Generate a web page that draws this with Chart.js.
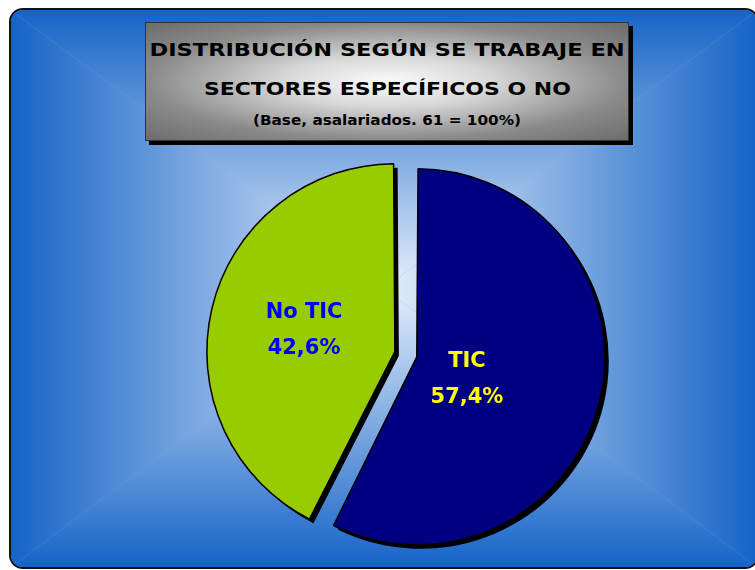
<!DOCTYPE html>
<html><head><meta charset="utf-8">
<script src="https://cdn.jsdelivr.net/npm/chart.js@4.4.1/dist/chart.umd.min.js"></script>
<style>
html,body{margin:0;padding:0;background:#fff;width:755px;height:570px;overflow:hidden;font-family:"DejaVu Sans",sans-serif;}
.rg{position:absolute;overflow:hidden;box-sizing:border-box;}
.q{position:absolute;left:0;top:0;width:100%;height:100%;}
.q.t{clip-path:polygon(0 0,100% 0,50% 50%);background:linear-gradient(to bottom,var(--e) 0%,var(--c) 50%,var(--c) 100%);}
.q.b{clip-path:polygon(0 100%,100% 100%,50% 50%);background:linear-gradient(to top,var(--e) 0%,var(--c) 50%,var(--c) 100%);}
.q.l{clip-path:polygon(0 0,0 100%,50% 50%);background:linear-gradient(to right,var(--e) 0%,var(--c) 50%,var(--c) 100%);}
.q.r{clip-path:polygon(100% 0,100% 100%,50% 50%);background:linear-gradient(to left,var(--e) 0%,var(--c) 50%,var(--c) 100%);}
#bg{left:9px;top:8px;width:750px;height:561px;border:2px solid #111;border-radius:14px;--e:#1563c8;--c:#e4eefa;background:#7fa6e0;}
#titlebox{left:145px;top:22px;width:484px;height:119px;border:1px solid #333;box-shadow:4px 4px 0 #000;overflow:visible;
  background:radial-gradient(ellipse farthest-corner at 50% 50%,#fbfbfb 0%,#d8d8d8 30%,#8a8a8a 70%,#6c6c6c 100%);}
.tl{position:absolute;left:0;width:100%;text-align:center;font-weight:bold;color:#000;white-space:nowrap;}
.tl span{display:inline-block;transform-origin:50% 50%;}
#l1{top:18px;font-size:18px;line-height:18px;}
#l2{top:57px;font-size:18px;line-height:18px;}
#l3{top:90px;font-size:14px;line-height:14px;}
#pie{position:absolute;left:179px;top:125px;}
</style></head>
<body>
<div id="bg" class="rg"><div class="q t"></div><div class="q b"></div><div class="q l"></div><div class="q r"></div></div>
<div id="titlebox" class="rg">
  <div class="tl" id="l1"><span data-w="475">DISTRIBUCIÓN SEGÚN SE TRABAJE EN</span></div>
  <div class="tl" id="l2"><span data-w="367">SECTORES ESPECÍFICOS O NO</span></div>
  <div class="tl" id="l3"><span data-w="268">(Base, asalariados. 61 = 100%)</span></div>
</div>
<canvas id="pie" width="460" height="460"></canvas>
<script>
// ---- data ----
const categories = ['TIC', 'No TIC'];
const percentages = [57.4, 42.6];
// ---- style ----
const sliceColors = ['#000080', '#99cc00'];
const labelColors = ['#ffff00', '#0000ff'];
const sliceOffsets = [32, 58];
const labelShift = [[0.322, 0.139], [-0.583, -0.136]];

function fmt(v){ return v.toFixed(1).replace('.', ',') + '%'; }

// fit title lines to their widths
document.querySelectorAll('.tl span').forEach(s => {
  const w = s.getBoundingClientRect().width;
  s.style.transform = 'scaleX(' + (parseFloat(s.dataset.w) / w) + ')';
});

const shadowPlugin = {
  id: 'sliceShadow',
  beforeDatasetsDraw(chart) {
    const ctx = chart.ctx;
    ctx.save();
    ctx.translate(4, 4);
    chart.getDatasetMeta(0).data.forEach(el => {
      const ghost = Object.create(el);
      ghost.options = Object.assign({}, el.options, {backgroundColor: '#000', borderWidth: 0});
      ghost.draw(ctx);
    });
    ctx.restore();
  }
};

const labelPlugin = {
  id: 'sliceLabels',
  afterDatasetsDraw(chart) {
    const ctx = chart.ctx;
    chart.getDatasetMeta(0).data.forEach((el, i) => {
      const R = el.outerRadius;
      const x = el.x + labelShift[i][0] * R;
      const y = el.y + labelShift[i][1] * R;
      ctx.save();
      ctx.font = 'bold 21px "DejaVu Sans"';
      ctx.fillStyle = labelColors[i];
      ctx.textAlign = 'center';
      ctx.textBaseline = 'middle';
      ctx.fillText(categories[i], x, y - 18);
      ctx.fillText(fmt(percentages[i]), x, y + 18);
      ctx.restore();
    });
  }
};

new Chart(document.getElementById('pie'), {
  type: 'pie',
  data: {
    labels: categories,
    datasets: [{
      data: percentages,
      backgroundColor: sliceColors,
      borderColor: '#000',
      borderWidth: 1.5,
      offset: sliceOffsets,
      radius: 180
    }]
  },
  options: {
    responsive: false,
    devicePixelRatio: 1,
    animation: false,
    layout: {padding: 0},
    plugins: {legend: {display: false}, tooltip: {enabled: false}, title: {display: false}}
  },
  plugins: [shadowPlugin, labelPlugin]
});
</script>
</body></html>
